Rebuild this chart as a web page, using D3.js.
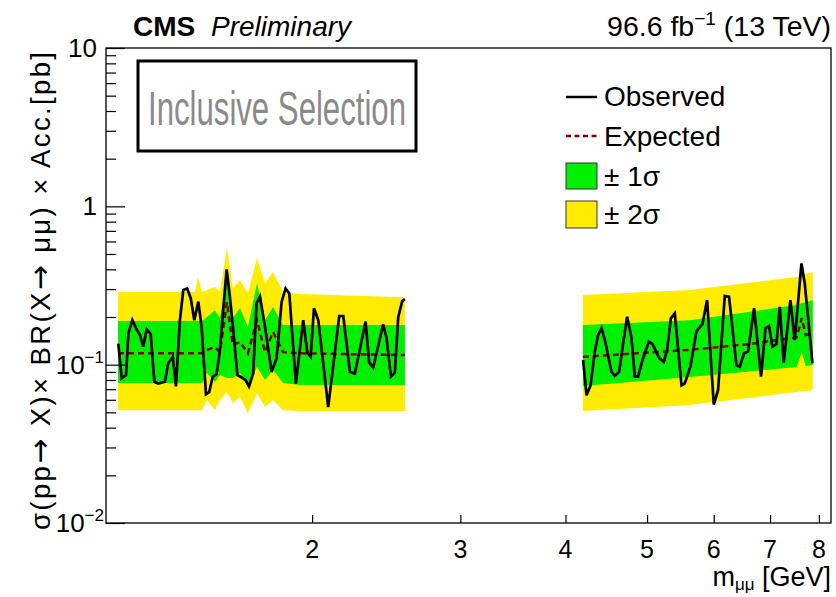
<!DOCTYPE html>
<html>
<head>
<meta charset="utf-8">
<script src="https://cdn.jsdelivr.net/npm/d3@7"></script>
<style>
  body { margin: 0; background: #fff; }
  text { font-family: "Liberation Sans", Arial, sans-serif; fill: #000; }
</style>
</head>
<body>
<div id="chart"></div>
<script>
// observed limit, low mass window
const obsLeftMass = [1.177, 1.188, 1.202, 1.210, 1.223, 1.238, 1.249, 1.260, 1.272, 1.286, 1.299, 1.313, 1.337, 1.349, 1.366, 1.378, 1.393, 1.406, 1.421, 1.435, 1.449, 1.465, 1.478, 1.496, 1.509, 1.524, 1.540, 1.554, 1.568, 1.583, 1.597, 1.612, 1.630, 1.649, 1.667, 1.683, 1.702, 1.718, 1.734, 1.758, 1.790, 1.815, 1.840, 1.860, 1.879, 1.913, 1.952, 1.974, 1.992, 2.010, 2.034, 2.090, 2.154, 2.178, 2.218, 2.248, 2.315, 2.338, 2.364, 2.429, 2.452, 2.481, 2.508, 2.531, 2.559, 2.578];
const obsLeftLimit = [0.136, 0.082, 0.086, 0.158, 0.191, 0.166, 0.154, 0.130, 0.167, 0.156, 0.078, 0.076, 0.078, 0.102, 0.112, 0.073, 0.191, 0.296, 0.303, 0.262, 0.191, 0.250, 0.174, 0.065, 0.067, 0.084, 0.087, 0.124, 0.221, 0.400, 0.269, 0.166, 0.086, 0.083, 0.080, 0.073, 0.088, 0.244, 0.269, 0.174, 0.090, 0.110, 0.250, 0.303, 0.282, 0.076, 0.191, 0.119, 0.112, 0.227, 0.191, 0.054, 0.203, 0.203, 0.090, 0.088, 0.187, 0.103, 0.096, 0.180, 0.147, 0.084, 0.089, 0.199, 0.252, 0.259];

// observed limit, high mass window
const obsRightMass = [4.198, 4.237, 4.284, 4.334, 4.374, 4.415, 4.455, 4.537, 4.578, 4.632, 4.683, 4.735, 4.792, 4.835, 4.879, 4.938, 5.024, 5.075, 5.168, 5.234, 5.282, 5.336, 5.394, 5.494, 5.543, 5.631, 5.724, 5.818, 5.892, 6.001, 6.072, 6.184, 6.257, 6.385, 6.443, 6.520, 6.591, 6.701, 6.830, 6.913, 6.981, 7.046, 7.123, 7.188, 7.267, 7.401, 7.489, 7.628, 7.697, 7.861];
const obsRightLimit = [0.107, 0.064, 0.074, 0.121, 0.154, 0.170, 0.143, 0.090, 0.085, 0.090, 0.136, 0.201, 0.147, 0.084, 0.084, 0.107, 0.140, 0.135, 0.110, 0.104, 0.124, 0.196, 0.211, 0.074, 0.076, 0.098, 0.163, 0.180, 0.256, 0.056, 0.069, 0.271, 0.269, 0.099, 0.097, 0.118, 0.121, 0.227, 0.084, 0.170, 0.175, 0.130, 0.135, 0.232, 0.103, 0.256, 0.143, 0.436, 0.326, 0.102];

// expected limit and bands, low mass window
const bandLeftMass = [1.176, 1.452, 1.464, 1.480, 1.500, 1.533, 1.554, 1.584, 1.610, 1.642, 1.678, 1.720, 1.758, 1.797, 1.847, 1.934, 2.578];
const expLeft = [0.118, 0.118, 0.118, 0.118, 0.124, 0.129, 0.120, 0.248, 0.133, 0.139, 0.118, 0.191, 0.120, 0.161, 0.120, 0.118, 0.115];
const up2Left = [0.288, 0.288, 0.358, 0.288, 0.296, 0.309, 0.288, 0.545, 0.305, 0.342, 0.283, 0.472, 0.328, 0.385, 0.288, 0.279, 0.267];
const up1Left = [0.189, 0.189, 0.189, 0.189, 0.200, 0.221, 0.197, 0.342, 0.197, 0.228, 0.173, 0.328, 0.191, 0.231, 0.178, 0.178, 0.178];
const dn1Left = [0.0765, 0.0765, 0.0765, 0.0765, 0.0885, 0.0776, 0.0859, 0.0823, 0.0823, 0.0885, 0.0722, 0.0966, 0.0799, 0.0925, 0.0765, 0.0743, 0.0743];
const dn2Left = [0.0516, 0.0516, 0.0516, 0.0516, 0.0598, 0.0516, 0.0598, 0.0671, 0.0572, 0.0624, 0.0494, 0.0661, 0.054, 0.0598, 0.0516, 0.0509, 0.0509];

// expected limit and bands, high mass window
const bandRightMass = [4.195, 5.620, 6.620, 7.530, 7.634, 7.718, 7.867];
const expRight = [0.112, 0.124, 0.135, 0.149, 0.197, 0.154, 0.158];
const up2Right = [0.275, 0.296, 0.329, 0.358, 0.368, 0.374, 0.385];
const up1Right = [0.178, 0.191, 0.216, 0.238, 0.245, 0.248, 0.256];
const dn1Right = [0.0732, 0.0835, 0.0906, 0.0966, 0.120, 0.098, 0.0994];
const dn2Right = [0.0509, 0.0556, 0.0618, 0.0671, 0.068, 0.068, 0.0691];

const xTicks = [2, 3, 4, 5, 6, 7, 8];
const yMajor = [0.01, 0.1, 1, 10];
const yLabels = [["10", "\u22122"], ["10", "\u22121"], ["1", ""], ["10", ""]];

const W = 836, H = 597;
const pLeft = 106, pRight = 831, pTop = 48, pBottom = 523;
const yellow = "#ffec00", green = "#00f000", expColor = "#8b0000";

const svg = d3.select("#chart").append("svg").attr("width", W).attr("height", H);

const x = d3.scaleLog().domain([1.138, 8.27]).range([pLeft, pRight]);
const y = d3.scaleLog().domain([0.01, 10]).range([pBottom, pTop]);

function zip(xs, ys) {
  return xs.map((m, i) => [m, ys[i]]);
}
function bandRows(mass, lo, hi) {
  return mass.map((m, i) => ({ m: m, lo: lo[i], hi: hi[i] }));
}

const area = d3.area().x((d) => x(d.m)).y0((d) => y(d.lo)).y1((d) => y(d.hi));
const line = d3.line().x((d) => x(d[0])).y((d) => y(d[1]));

const plot = svg.append("g");

// 2 sigma then 1 sigma
[[bandLeftMass, dn2Left, up2Left], [bandRightMass, dn2Right, up2Right]].forEach(function (b) {
  plot.append("path").attr("d", area(bandRows(b[0], b[1], b[2]))).attr("fill", yellow);
});
[[bandLeftMass, dn1Left, up1Left], [bandRightMass, dn1Right, up1Right]].forEach(function (b) {
  plot.append("path").attr("d", area(bandRows(b[0], b[1], b[2]))).attr("fill", green);
});

// expected
[zip(bandLeftMass, expLeft), zip(bandRightMass, expRight)].forEach(function (pts) {
  plot.append("path").attr("d", line(pts)).attr("fill", "none")
    .attr("stroke", expColor).attr("stroke-width", 2.5).attr("stroke-dasharray", "6,4");
});

// observed
[zip(obsLeftMass, obsLeftLimit), zip(obsRightMass, obsRightLimit)].forEach(function (pts) {
  plot.append("path").attr("d", line(pts)).attr("fill", "none")
    .attr("stroke", "#000").attr("stroke-width", 2.7).attr("stroke-linejoin", "miter");
});

// frame
svg.append("rect").attr("x", pLeft).attr("y", pTop).attr("width", pRight - pLeft).attr("height", pBottom - pTop)
  .attr("fill", "none").attr("stroke", "#000").attr("stroke-width", 1.3);

// y axis ticks, pointing inwards
const yMinor = [];
yMajor.slice(0, 3).forEach(function (p) {
  for (let k = 2; k <= 9; k++) yMinor.push(p * k);
});
svg.append("g").attr("transform", `translate(${pLeft},0)`)
  .call(d3.axisLeft(y).tickValues(yMinor).tickSize(-10).tickFormat(""))
  .call((g) => g.select(".domain").remove());
svg.append("g").attr("transform", `translate(${pLeft},0)`)
  .call(d3.axisLeft(y).tickValues(yMajor).tickSize(-19).tickFormat(""))
  .call((g) => g.select(".domain").remove());
svg.selectAll(".tick line").attr("stroke", "#000").attr("stroke-width", 1.2);

yMajor.forEach(function (v, i) {
  const sup = yLabels[i][1];
  const t = svg.append("text").attr("x", sup ? 104 : 97).attr("y", y(v) + 9)
    .attr("text-anchor", "end").attr("font-size", 26);
  t.append("tspan").text(yLabels[i][0]);
  if (sup) t.append("tspan").attr("font-size", 17).attr("dy", -11).text(sup);
});

// x axis ticks
svg.append("g").attr("transform", `translate(0,${pBottom})`)
  .call(d3.axisBottom(x).tickValues(xTicks).tickSize(-8).tickFormat(""))
  .call((g) => g.select(".domain").remove())
  .selectAll("line").attr("stroke", "#000").attr("stroke-width", 1.2);

xTicks.forEach(function (v) {
  svg.append("text").attr("x", x(v)).attr("y", 558).attr("text-anchor", "middle")
    .attr("font-size", 25).text(v);
});

// axis titles
const xt = svg.append("text").attr("x", pRight).attr("y", 586).attr("text-anchor", "end").attr("font-size", 27);
xt.append("tspan").text("m");
xt.append("tspan").attr("font-size", 17).attr("dy", 4).text("\u03bc\u03bc");
xt.append("tspan").attr("dy", -4).text(" [GeV]");

const yt = svg.append("text").attr("transform", `translate(50,${pTop + 4}) rotate(-90)`)
  .attr("text-anchor", "end").attr("font-size", 27.5)
  .attr("textLength", 478).attr("lengthAdjust", "spacing");
const ytParts = ["\u03c3(pp", "\u2192", " X)\u00d7 BR(X", "\u2192", " \u03bc\u03bc) \u00d7 Acc.[pb]"];
ytParts.forEach(function (s) {
  const sp = yt.append("tspan").text(s);
  if (s === "\u2192") sp.attr("font-family", "DejaVu Sans").attr("font-size", 30);
});

// header
svg.append("text").attr("x", 133).attr("y", 36).attr("font-size", 28).attr("font-weight", "bold").text("CMS");
svg.append("text").attr("x", 211).attr("y", 36).attr("font-size", 28).attr("font-style", "italic").text("Preliminary");
const lumi = svg.append("text").attr("x", pRight).attr("y", 36).attr("text-anchor", "end").attr("font-size", 28.5);
lumi.append("tspan").text("96.6 fb");
lumi.append("tspan").attr("font-size", 19).attr("dy", -11).text("\u22121");
lumi.append("tspan").attr("dy", 11).text(" (13 TeV)");

// selection label box
svg.append("rect").attr("x", 138).attr("y", 61).attr("width", 278).attr("height", 90)
  .attr("fill", "#fff").attr("stroke", "#000").attr("stroke-width", 3);
svg.append("text").attr("x", 148).attr("y", 125).attr("font-family", "Roboto").attr("font-weight", 300)
  .attr("font-size", 48).attr("textLength", 258).attr("lengthAdjust", "spacingAndGlyphs")
  .style("fill", "#8a8a8a").text("Inclusive Selection");

// legend
const lx = 566, lw = 31, tx = 604;
svg.append("line").attr("x1", lx).attr("x2", lx + lw).attr("y1", 97).attr("y2", 97)
  .attr("stroke", "#000").attr("stroke-width", 2.5);
svg.append("line").attr("x1", lx).attr("x2", lx + lw).attr("y1", 136).attr("y2", 136)
  .attr("stroke", expColor).attr("stroke-width", 2.5).attr("stroke-dasharray", "5,3.5");
svg.append("rect").attr("x", lx).attr("y", 163).attr("width", lw).attr("height", 26)
  .attr("fill", green).attr("stroke", "#333").attr("stroke-width", 1);
svg.append("rect").attr("x", lx).attr("y", 201).attr("width", lw).attr("height", 27)
  .attr("fill", yellow).attr("stroke", "#333").attr("stroke-width", 1);

const legendText = [["Observed", 106], ["Expected", 146], ["\u00b1 1\u03c3", 186], ["\u00b1 2\u03c3", 224]];
legendText.forEach(function (d) {
  svg.append("text").attr("x", tx).attr("y", d[1]).attr("font-size", 28).text(d[0]);
});
</script>
</body>
</html>
